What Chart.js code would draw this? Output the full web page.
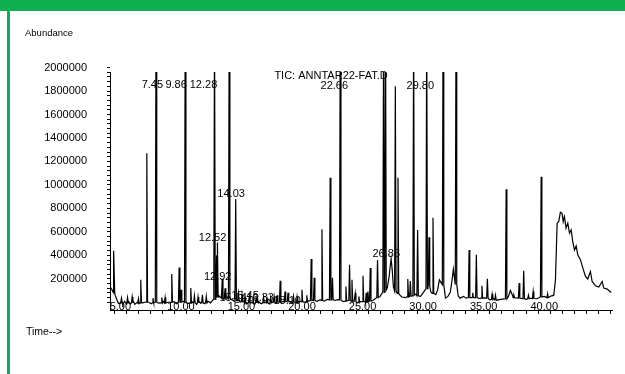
<!DOCTYPE html>
<html>
<head>
<meta charset="utf-8">
<script src="https://cdn.jsdelivr.net/npm/chart.js@4.4.1/dist/chart.umd.min.js"></script>
<style>
  html, body { margin: 0; padding: 0; background: #fff; }
  #frame { position: relative; width: 625px; height: 374px; overflow: hidden; }
  #topbar { position: absolute; left: 0; top: 0; width: 625px; height: 11px; background: #0db04f; }
  #sidebar { position: absolute; left: 7px; top: 11px; width: 3px; height: 363px; background: #0db04f; }
  canvas { position: absolute; left: 0; top: 0; }
</style>
</head>
<body>
<div id="frame">
  <canvas id="tic" width="625" height="374"></canvas>
  <div id="topbar"></div>
  <div id="sidebar"></div>
</div>
<script>
// Baseline / humps of the TIC trace (minutes, abundance)
const baseTimes = [3.70, 3.80, 3.90, 4.08, 4.20, 4.35, 4.55, 4.70, 4.85, 5.00, 5.20, 5.35, 5.55, 5.70, 5.90, 6.05, 6.35, 6.55, 6.85, 7.05,
  7.25, 7.65, 8.05, 8.25, 8.50, 8.95, 9.15, 9.70, 10.05, 10.45, 10.80, 11.00, 11.15, 11.45, 11.75, 11.95, 12.15, 12.65, 12.85, 13.05,
  13.30, 13.65, 13.90, 14.15, 14.40, 14.70, 14.90, 15.30, 15.60, 15.95, 16.15, 16.50, 16.80, 17.00, 17.35, 17.50, 17.90, 18.60, 19.05, 19.30,
  19.75, 20.00, 20.40, 20.75, 21.00, 21.35, 21.60, 22.25, 22.45, 22.90, 23.30, 23.80, 24.10, 24.30, 24.75, 25.35, 25.55, 25.95, 26.10, 26.55,
  26.70, 26.78, 26.86, 26.95, 27.05, 27.55, 27.75, 28.05, 28.60, 28.90, 29.30, 29.60, 29.90, 30.15, 30.55, 30.70, 30.85, 31.35, 31.55, 31.75,
  31.88, 32.00, 32.40, 32.55, 32.85, 33.05, 33.60, 34.10, 34.60, 35.00, 35.30, 35.60, 35.90, 36.20, 36.55, 36.71, 36.90, 37.15, 37.65, 38.00,
  38.30, 38.90, 39.10, 39.50, 39.80, 40.10, 40.29, 40.43, 40.57, 40.70, 40.84, 40.98, 41.07, 41.17, 41.31, 41.45, 41.59, 41.73, 41.86, 42.00,
  42.14, 42.27, 42.50, 42.72, 42.91, 43.10, 43.32, 43.46, 43.74, 44.01, 44.29, 44.42, 44.70, 45.03];
const baseValues = [125000, 110000, 85000, 60000, 25000, -10000, 5000, -20000, 8000, -15000, 5000, -15000, 12000, -18000, 0, -12000, -5000, 2000, 0, -12000,
  0, -8000, 8000, -15000, 0, 5000, -12000, 8000, -12000, 2000, -18000, 8000, -8000, -12000, 8000, -5000, 20000, 55000, 35000, 25000,
  40000, 25000, 10000, 20000, 0, 8000, -15000, 0, -18000, 5000, -12000, 0, -15000, 5000, -8000, 0, 5000, 5000, -8000, 8000,
  0, 10000, 20000, 8000, 22000, 10000, 25000, 15000, 22000, 5000, 15000, 5000, -5000, 8000, 0, 15000, 30000, 50000, 75000, 125000,
  220000, 300000, 370000, 280000, 130000, 65000, 45000, 40000, 55000, 70000, 50000, 95000, 160000, 85000, 65000, 105000, 190000, 35000, 50000, 85000,
  180000, 280000, 55000, 35000, 50000, 35000, 45000, 32000, 38000, 20000, 32000, 18000, 25000, 28000, 50000, 100000, 55000, 38000, 32000, 25000,
  35000, 30000, 40000, 50000, 40000, 55000, 58000, 191000, 674000, 687000, 767000, 758000, 687000, 730000, 631000, 674000, 589000, 616000, 517000, 446000,
  480000, 404000, 361000, 282000, 220000, 198000, 262000, 177000, 140000, 129000, 177000, 121000, 112000, 83000];

// Sharp peaks: retention time, apex, local baseline
const peakTimes = [3.98, 4.60, 5.10, 5.48, 6.00, 6.19, 6.69, 7.20, 7.45, 7.93, 8.20, 8.75, 9.36, 9.52, 9.86, 10.32, 10.62, 10.92, 11.28, 11.60,
  12.28, 12.45, 12.52, 12.92, 13.15, 13.49, 14.03, 14.25, 14.55, 14.80, 15.14, 15.45, 15.72, 15.83, 16.33, 16.62, 16.92, 17.20, 17.45, 17.70,
  18.10, 18.35, 18.80, 19.10, 19.50, 19.90, 20.26, 20.51, 21.15, 21.83, 22.02, 22.66, 23.13, 23.43, 23.63, 23.90, 24.20, 24.54, 24.80, 24.95,
  25.14, 25.74, 26.24, 26.40, 27.21, 27.43, 28.24, 28.45, 28.72, 29.05, 29.80, 29.99, 30.32, 31.15, 32.22, 33.30, 33.60, 33.90, 34.36, 34.81,
  35.20, 35.48, 36.36, 37.00, 37.43, 37.81, 38.20, 38.59, 39.25, 39.78];
const peakTops = [438000, 35000, 40000, 45000, 30000, 191000, 1270000, 35000, 2400000, 40000, 40000, 240000, 296000, 106000, 2400000, 121000, 55000, 45000, 64000, 50000,
  2400000, 400000, 510000, 200000, 120000, 2400000, 880000, 75000, 65000, 40000, 40000, 50000, 35000, 30000, 45000, 30000, 40000, 50000, 60000, 183000,
  92000, 80000, 50000, 45000, 106000, 60000, 368000, 208000, 622000, 1060000, 208000, 2400000, 134000, 319000, 191000, 78000, 50000, 225000, 80000, 92000,
  291000, 361000, 2400000, 2400000, 1840000, 1060000, 198000, 180000, 2400000, 616000, 2400000, 554000, 721000, 2400000, 2400000, 446000, 80000, 404000, 140000, 200000,
  70000, 60000, 963000, 60000, 163000, 268000, 60000, 92000, 1070000, 70000];
const peakBases = [80000, -5000, -5000, -5000, -5000, -5000, 0, -5000, 0, -5000, -5000, 0, 0, 0, 5000, -5000, -5000, -5000, -5000, -5000,
  25000, 45000, 45000, 35000, 30000, 30000, 15000, 15000, 5000, -5000, -5000, -5000, -5000, -5000, -5000, -5000, -5000, 0, 0, 0,
  5000, 5000, 0, 0, 5000, 5000, 15000, 15000, 15000, 20000, 20000, 20000, 10000, 15000, 10000, 5000, 0, 5000, 5000, 5000,
  10000, 40000, 85000, 105000, 95000, 75000, 45000, 50000, 60000, 55000, 115000, 135000, 75000, 150000, 150000, 40000, 40000, 40000, 35000, 35000,
  25000, 20000, 30000, 40000, 35000, 30000, 30000, 32000, 45000, 40000];

// Peak annotations (text, centre time, level)
const labelTexts = ['7.45', '9.86', '12.28', '14.03', '12.52', '12.92', '22.66', '26.86', '29.80', '15.14', '15.45', '16.33', '18.10'];
const labelTimes = [7.15, 9.11, 11.37, 13.65, 12.12, 12.54, 22.17, 26.46, 29.27, 13.82, 14.80, 16.05, 18.28];
const labelLevels = [1851000, 1851000, 1851000, 923000, 549000, 217000, 1843000, 413000, 1843000, 38000, 55000, 38000, 13000];

const xLabelTicks = [5, 10, 15, 20, 25, 30, 35, 40];
const yLabelTicks = [200000, 400000, 600000, 800000, 1000000, 1200000, 1400000, 1600000, 1800000, 2000000];

// build one trace from baseline + peaks
const halfWidth = 0.06;
const trace = [];
baseTimes.forEach((t, i) => trace.push({ x: t, y: baseValues[i] }));
peakTimes.forEach((t, i) => {
  trace.push({ x: t - halfWidth, y: peakBases[i] });
  trace.push({ x: t, y: peakTops[i] });
  trace.push({ x: t + halfWidth, y: peakBases[i] });
});
trace.sort((a, b) => a.x - b.x);

const numFont = { family: 'Liberation Sans, Arial, sans-serif', size: 11 };

// x tick labels sit on top of the axis line, under the trace
const timeLabels = {
  id: 'timeLabels',
  beforeDatasetsDraw(chart) {
    const ctx = chart.ctx;
    const xs = chart.scales.x;
    ctx.save();
    ctx.fillStyle = '#000';
    ctx.font = '11px Liberation Sans, Arial, sans-serif';
    ctx.textAlign = 'center';
    ctx.textBaseline = 'middle';
    xLabelTicks.forEach(m => ctx.fillText(m.toFixed(2), xs.getPixelForValue(m) - 6, chart.chartArea.bottom - 3));
    ctx.restore();
  }
};

const annotations = {
  id: 'annotations',
  afterDatasetsDraw(chart) {
    const ctx = chart.ctx;
    const xs = chart.scales.x, ys = chart.scales.y;
    ctx.save();
    ctx.fillStyle = '#000';
    ctx.font = '11px Liberation Sans, Arial, sans-serif';
    ctx.textAlign = 'center';
    ctx.textBaseline = 'middle';
    labelTexts.forEach((txt, i) => {
      ctx.fillText(txt, xs.getPixelForValue(labelTimes[i]), ys.getPixelForValue(labelLevels[i]));
    });
    ctx.fillText('TIC: ANNTAR22-FAT.D', xs.getPixelForValue(21.9), ys.getPixelForValue(1928000));
    ctx.textAlign = 'left';
    ctx.font = '9.5px Liberation Sans, Arial, sans-serif';
    ctx.fillText('Abundance', 25, 33);
    ctx.font = '10.5px Liberation Sans, Arial, sans-serif';
    ctx.fillText('Time-->', 26, 332);
    ctx.restore();
  }
};

const ctx = document.getElementById('tic').getContext('2d');
const ticChart = new Chart(ctx, {
  type: 'line',
  data: {
    datasets: [{
      data: trace,
      borderColor: '#000',
      borderWidth: 1.2,
      pointRadius: 0,
      tension: 0,
      fill: false
    }]
  },
  options: {
    responsive: false,
    animation: false,
    layout: { padding: { left: 0, right: 13, top: 72, bottom: 0 } },
    plugins: {
      legend: { display: false },
      tooltip: { enabled: false }
    },
    scales: {
      x: {
        type: 'linear',
        min: 3.65,
        max: 45.1,
        afterFit: s => { s.height = 64; },
        afterBuildTicks: s => {
          const ticks = [];
          for (let m = 4; m <= 45; m++) ticks.push({ value: m });
          s.ticks = ticks;
        },
        grid: { drawOnChartArea: false, drawTicks: true, tickLength: 4, color: '#000' },
        border: { display: true, color: '#000', width: 1 },
        ticks: { autoSkip: false, maxRotation: 0, callback: () => '' }
      },
      y: {
        min: -66000,
        max: 1962000,
        afterFit: s => { s.width = 110; },
        afterBuildTicks: s => {
          const ticks = [];
          for (let v = 0; v <= 1960000; v += 40000) ticks.push({ value: v });
          ticks.push({ value: 2000000 });
          s.ticks = ticks;
        },
        grid: { drawOnChartArea: false, drawTicks: true, tickLength: 3, color: '#000' },
        border: { display: true, color: '#000', width: 1 },
        ticks: {
          autoSkip: false,
          padding: 20,
          color: '#000',
          font: numFont,
          callback: v => yLabelTicks.includes(v) ? String(v) : ''
        }
      }
    }
  },
  plugins: [timeLabels, annotations]
});
</script>
</body>
</html>
